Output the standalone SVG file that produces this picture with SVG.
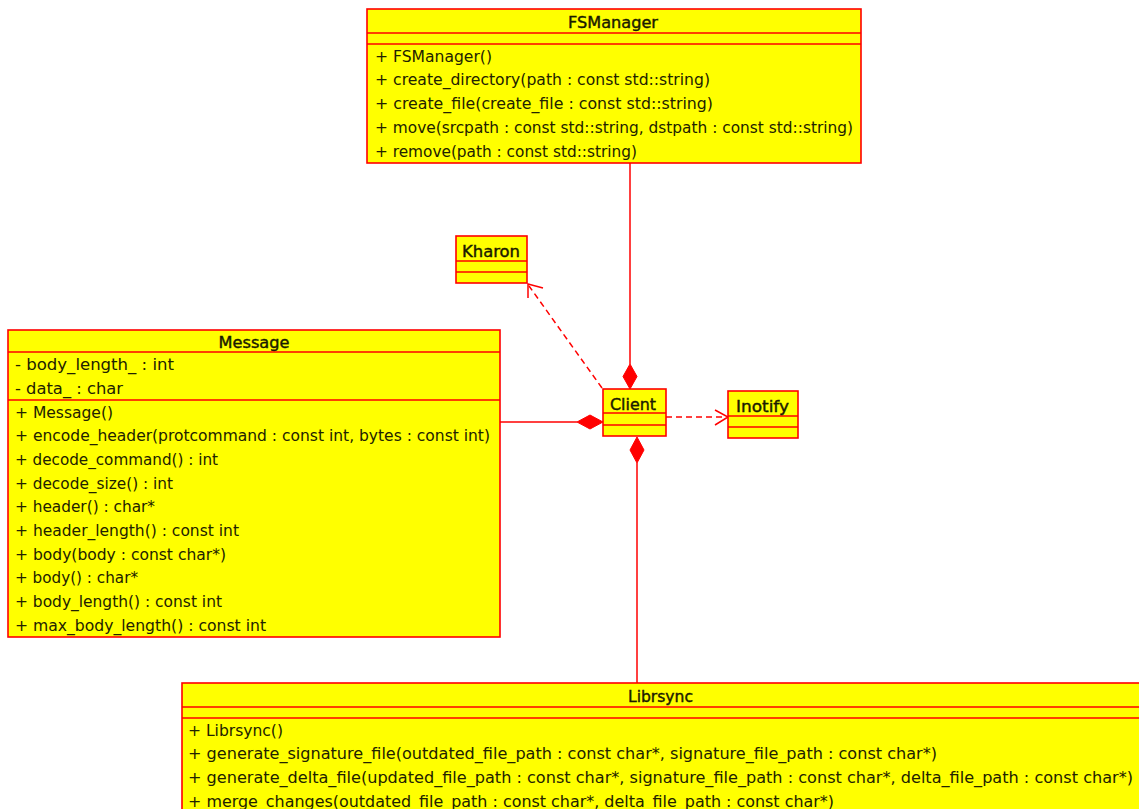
<svg xmlns="http://www.w3.org/2000/svg" width="1139" height="809" viewBox="0 0 1139 809">
  <style>
    .box { fill: #ffff00; stroke: #ff0000; stroke-width: 1.6; }
    .sep { stroke: #ff0000; stroke-width: 1.6; fill: none; }
    .title { font-family: "DejaVu Sans", Verdana, sans-serif; font-size: 15px; fill: #1a1a00; stroke: #1a1a00; stroke-width: 0.4; text-anchor: middle; }
    .member { font-family: "DejaVu Sans", Verdana, sans-serif; font-size: 15px; fill: #222200; }
    .link { stroke: #ff0000; stroke-width: 1.5; fill: none; }
    .dep { stroke: #ff0000; stroke-width: 1.5; fill: none; stroke-dasharray: 6 4; }
    .head { stroke: #ff0000; stroke-width: 1.5; fill: none; }
    .diamond { fill: #ff0000; stroke: #ff0000; stroke-width: 1; }
  </style>

  <!-- relationships -->
  <g id="connectors">
    <!-- FSManager composed into Client -->
    <line class="link" x1="630" y1="163" x2="630" y2="364"/>
    <polygon class="diamond" points="630,364 637,376.5 630,389 623,376.5"/>
    <!-- Message composed into Client -->
    <line class="link" x1="500" y1="422" x2="577" y2="422"/>
    <polygon class="diamond" points="577,422 590,415 603,422 590,429"/>
    <!-- Librsync composed into Client -->
    <line class="link" x1="637" y1="463" x2="637" y2="683"/>
    <polygon class="diamond" points="637,437 644,450 637,463 630,450"/>
    <!-- Client depends on Kharon -->
    <line class="dep" x1="602" y1="388" x2="529" y2="286"/>
    <polyline class="head" points="543,288 528,284 528,298"/>
    <!-- Client depends on Inotify -->
    <line class="dep" x1="666" y1="417" x2="726" y2="417"/>
    <polyline class="head" points="715,410 728,417 715,425"/>
  </g>

  <!-- FSManager -->
  <g id="FSManager">
    <rect class="box" x="367" y="9" width="494" height="154"/>
    <line class="sep" x1="367" y1="33" x2="861" y2="33"/>
    <line class="sep" x1="367" y1="44" x2="861" y2="44"/>
    <text class="title" x="613" y="27.5" textLength="90" lengthAdjust="spacingAndGlyphs">FSManager</text>
    <text class="member" x="375" y="61.5" textLength="117" lengthAdjust="spacingAndGlyphs">+ FSManager()</text>
    <text class="member" x="375" y="85.3" textLength="335" lengthAdjust="spacingAndGlyphs">+ create_directory(path : const std::string)</text>
    <text class="member" x="375" y="109.1" textLength="338" lengthAdjust="spacingAndGlyphs">+ create_file(create_file : const std::string)</text>
    <text class="member" x="375" y="132.9" textLength="478" lengthAdjust="spacingAndGlyphs">+ move(srcpath : const std::string, dstpath : const std::string)</text>
    <text class="member" x="375" y="156.7" textLength="262" lengthAdjust="spacingAndGlyphs">+ remove(path : const std::string)</text>
  </g>

  <!-- Kharon -->
  <g id="Kharon">
    <rect class="box" x="456" y="236" width="71" height="47"/>
    <line class="sep" x1="456" y1="261" x2="527" y2="261"/>
    <line class="sep" x1="456" y1="272" x2="527" y2="272"/>
    <text class="title" x="491" y="256.5" textLength="58" lengthAdjust="spacingAndGlyphs">Kharon</text>
  </g>

  <!-- Message -->
  <g id="Message">
    <rect class="box" x="8" y="330" width="492" height="307"/>
    <line class="sep" x1="8" y1="352" x2="500" y2="352"/>
    <line class="sep" x1="8" y1="400" x2="500" y2="400"/>
    <text class="title" x="254" y="347.5" textLength="71" lengthAdjust="spacingAndGlyphs">Message</text>
    <text class="member" x="15" y="370" textLength="159" lengthAdjust="spacingAndGlyphs">- body_length_ : int</text>
    <text class="member" x="15" y="393.5" textLength="108" lengthAdjust="spacingAndGlyphs">- data_ : char</text>
    <text class="member" x="15" y="417.5" textLength="98" lengthAdjust="spacingAndGlyphs">+ Message()</text>
    <text class="member" x="15" y="441.2" textLength="475" lengthAdjust="spacingAndGlyphs">+ encode_header(protcommand : const int, bytes : const int)</text>
    <text class="member" x="15" y="464.8" textLength="203" lengthAdjust="spacingAndGlyphs">+ decode_command() : int</text>
    <text class="member" x="15" y="488.5" textLength="158" lengthAdjust="spacingAndGlyphs">+ decode_size() : int</text>
    <text class="member" x="15" y="512.2" textLength="140" lengthAdjust="spacingAndGlyphs">+ header() : char*</text>
    <text class="member" x="15" y="535.9" textLength="224" lengthAdjust="spacingAndGlyphs">+ header_length() : const int</text>
    <text class="member" x="15" y="559.6" textLength="211" lengthAdjust="spacingAndGlyphs">+ body(body : const char*)</text>
    <text class="member" x="15" y="583.3" textLength="123" lengthAdjust="spacingAndGlyphs">+ body() : char*</text>
    <text class="member" x="15" y="607" textLength="207" lengthAdjust="spacingAndGlyphs">+ body_length() : const int</text>
    <text class="member" x="15" y="630.6" textLength="251" lengthAdjust="spacingAndGlyphs">+ max_body_length() : const int</text>
  </g>

  <!-- Client -->
  <g id="Client">
    <rect class="box" x="603" y="389" width="63" height="47"/>
    <line class="sep" x1="603" y1="413" x2="666" y2="413"/>
    <line class="sep" x1="603" y1="425" x2="666" y2="425"/>
    <text class="title" x="633" y="410" textLength="46" lengthAdjust="spacingAndGlyphs">Client</text>
  </g>

  <!-- Inotify -->
  <g id="Inotify">
    <rect class="box" x="728" y="391" width="70" height="47"/>
    <line class="sep" x1="728" y1="416" x2="798" y2="416"/>
    <line class="sep" x1="728" y1="427" x2="798" y2="427"/>
    <text class="title" x="762.5" y="411.5" textLength="53" lengthAdjust="spacingAndGlyphs">Inotify</text>
  </g>

  <!-- Librsync -->
  <g id="Librsync">
    <rect class="box" x="182" y="683" width="958" height="140"/>
    <line class="sep" x1="182" y1="707" x2="1140" y2="707"/>
    <line class="sep" x1="182" y1="718" x2="1140" y2="718"/>
    <text class="title" x="660.5" y="701.5" textLength="65" lengthAdjust="spacingAndGlyphs">Librsync</text>
    <text class="member" x="188" y="735.7" textLength="95" lengthAdjust="spacingAndGlyphs">+ Librsync()</text>
    <text class="member" x="188" y="759.3" textLength="749" lengthAdjust="spacingAndGlyphs">+ generate_signature_file(outdated_file_path : const char*, signature_file_path : const char*)</text>
    <text class="member" x="188" y="783" textLength="945" lengthAdjust="spacingAndGlyphs">+ generate_delta_file(updated_file_path : const char*, signature_file_path : const char*, delta_file_path : const char*)</text>
    <text class="member" x="188" y="806.7" textLength="646" lengthAdjust="spacingAndGlyphs">+ merge_changes(outdated_file_path : const char*, delta_file_path : const char*)</text>
  </g>
</svg>
